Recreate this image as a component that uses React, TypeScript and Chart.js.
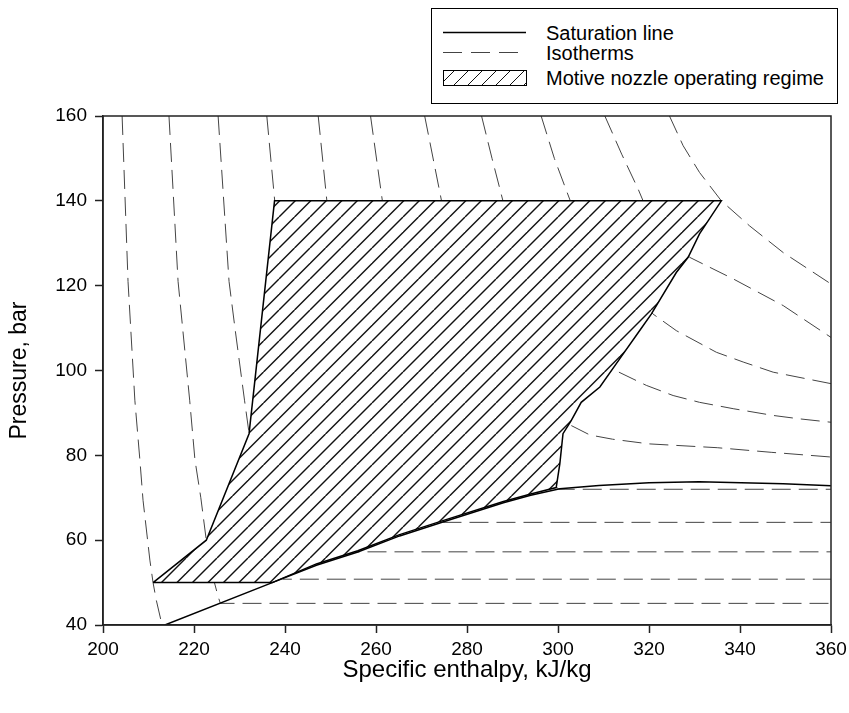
import React, { useEffect, useRef } from 'react';
import { Chart, registerables } from 'chart.js';

Chart.register(...registerables);

const FONT = '"Liberation Sans", Arial, Helvetica, sans-serif';

// Axis ticks
const xTickValues = [200, 220, 240, 260, 280, 300, 320, 340, 360];
const yTickValues = [40, 60, 80, 100, 120, 140, 160];

// Legend labels
const legendLabels = ['Saturation line', 'Isotherms', 'Motive nozzle operating regime'];

// Saturation line (enthalpy kJ/kg, pressure bar)
const satH = [213.6, 237.2, 246.9, 256.0, 265.2, 274.7, 288.0, 294.0, 300.4, 309.0, 320.0, 331.0, 349.5, 360.0];
const satP = [40.0, 50.0, 54.1, 57.2, 61.0, 64.3, 68.8, 70.6, 72.1, 72.9, 73.55, 73.75, 73.3, 72.8];

// Isotherms
const iso5H = [204.2, 205.5, 207.0, 208.1, 208.8, 210.3, 211.0, 211.7, 212.8, 213.4];
const iso5P = [160, 121, 93, 79, 69.4, 55.3, 50, 45.9, 40.8, 39];

const iso10H = [214.5, 216.5, 219.05, 220.2, 221.5, 222.7, 224.0, 225.3, 225.8, 360];
const iso10P = [160, 121, 93, 79, 70, 60, 52, 46.7, 45.1, 45.1];

const iso15H = [225.3, 227.7, 229.0, 231.1, 232.0, 234.0, 236.5, 238.3, 239.5, 360];
const iso15P = [160, 121, 110, 93, 86, 75, 62, 54, 50.8, 50.8];

const iso20H = [236.0, 237.6, 239.5, 242.0, 245.5, 249.5, 253.0, 256.0, 360];
const iso20P = [160, 141.6, 120, 100, 85, 72, 62, 57.25, 57.25];

const iso25H = [247.3, 249.2, 252.0, 256.0, 261.0, 266.0, 271.0, 274.8, 360];
const iso25P = [160, 140, 120, 100, 88, 78, 69, 64.2, 64.2];

const iso30H = [258.8, 261.4, 265.0, 271.0, 279.0, 289.0, 296.0, 300.2, 360];
const iso30P = [160, 140, 120, 105, 93, 83, 76, 72.0, 72.0];

const iso35H = [270.7, 274.4, 279.0, 285.0, 292.0, 302.4, 307.0, 312.0, 320.0, 335.0, 347.0, 360.0];
const iso35P = [160, 140, 125, 110, 98, 87.3, 84.8, 83.8, 82.7, 81.8, 80.7, 79.6];

const iso40H = [283.2, 285.5, 287.9, 294.0, 301.0, 308.0, 313.4, 319.4, 325.3, 331.1, 338.5, 347.3, 353.1, 360.0];
const iso40P = [160, 150, 140, 125, 113, 105, 99.6, 96.5, 94.1, 92.5, 91.0, 89.4, 88.6, 87.8];

const iso45H = [296.3, 299.2, 302.7, 308.0, 314.0, 320.9, 326.0, 334.8, 340.7, 347.3, 360.0];
const iso45P = [160, 150, 140, 130, 121, 113.3, 109.4, 104.3, 102.0, 99.6, 96.9];

const iso50H = [310.3, 314.0, 317.6, 318.7, 322.0, 325.5, 328.9, 338.5, 349.5, 360.0];
const iso50P = [160, 151, 142.8, 140, 135, 130.5, 126.7, 121.6, 115.3, 107.8];

const iso55H = [324.5, 327.5, 331.1, 335.9, 342.1, 349.5, 360.0];
const iso55P = [160, 153, 146.7, 140, 134.1, 127.8, 120.4];

// Motive nozzle operating regime (closed polygon)
const regimeH = [211.0, 222.7, 232.1, 237.7, 335.9, 331.1, 328.6, 326.0, 320.5, 318.0, 313.4, 309.2, 305.1, 302.9, 301.1, 300.4, 299.6, 294.0, 288.0, 274.7, 265.2, 256.0, 246.9, 237.2, 211.0];
const regimeP = [50, 60, 85.1, 140, 140, 132.2, 126.7, 123.1, 113.3, 109.5, 102.5, 96.1, 92.5, 88.2, 85.1, 78.0, 72.4, 70.9, 69.1, 64.6, 61.3, 57.5, 54.4, 50, 50];

const isoH = [iso5H, iso10H, iso15H, iso20H, iso25H, iso30H, iso35H, iso40H, iso45H, iso50H, iso55H];
const isoP = [iso5P, iso10P, iso15P, iso20P, iso25P, iso30P, iso35P, iso40P, iso45P, iso50P, iso55P];

function zip(h: number[], p: number[]) {
  return h.map((x, i) => ({ x, y: p[i] }));
}

function makeHatch(): CanvasPattern | string {
  const c = document.createElement('canvas');
  const s = 31;
  c.width = s;
  c.height = s;
  const g = c.getContext('2d');
  if (!g) return '#fff';
  g.fillStyle = '#fff';
  g.fillRect(0, 0, s, s);
  g.strokeStyle = '#111';
  g.lineWidth = 1.4;
  for (const k of [0, 15.5, 31, 46.5, 62]) {
    g.beginPath();
    g.moveTo(k, 0);
    g.lineTo(k - s, s);
    g.stroke();
  }
  return g.createPattern(c, 'repeat') || '#fff';
}

const framePlugin = {
  id: 'frame',
  afterDatasetsDraw(chart: any) {
    const { ctx, chartArea: a } = chart;
    ctx.save();
    ctx.strokeStyle = '#222';
    ctx.lineWidth = 1.5;
    ctx.strokeRect(a.left, a.top, a.right - a.left, a.bottom - a.top);
    ctx.restore();
  },
};

export default function App() {
  const ref = useRef<HTMLCanvasElement | null>(null);

  useEffect(() => {
    if (!ref.current) return;
    const isoSets = isoH.map((h, i) => ({
      label: 'Isotherm ' + i,
      data: zip(h, isoP[i]),
      showLine: true,
      borderColor: '#444',
      borderWidth: 1,
      borderDash: [19, 8],
      pointRadius: 0,
      fill: false,
      order: 2,
    }));
    const chart = new Chart(ref.current, {
      type: 'scatter',
      data: {
        datasets: [
          {
            label: legendLabels[0],
            data: zip(satH, satP),
            showLine: true,
            borderColor: '#000',
            borderWidth: 1.5,
            pointRadius: 0,
            fill: false,
            order: 0,
          },
          {
            label: legendLabels[2],
            data: zip(regimeH, regimeP),
            showLine: true,
            borderColor: '#000',
            borderWidth: 1.5,
            backgroundColor: makeHatch() as any,
            pointRadius: 0,
            fill: 'shape',
            order: 1,
          },
          ...isoSets,
        ] as any,
      },
      options: {
        responsive: false,
        animation: false,
        devicePixelRatio: 1,
        layout: { padding: { left: 0, top: 116, right: 18, bottom: 0 } },
        plugins: {
          legend: { display: false },
          tooltip: { enabled: false },
        },
        scales: {
          x: {
            type: 'linear',
            min: 200,
            max: 360,
            afterBuildTicks: (s: any) => {
              s.ticks = xTickValues.map((v) => ({ value: v }));
            },
            afterFit: (s: any) => {
              s.height = 88;
              s.paddingLeft = 0;
              s.paddingRight = 0;
            },
            ticks: { font: { family: FONT, size: 19 }, color: '#000', padding: 5.5, maxRotation: 0 },
            grid: { drawOnChartArea: false, tickLength: 8, tickColor: '#222', tickWidth: 1.5 },
            border: { color: '#222', width: 1.5 },
            title: {
              display: true,
              text: 'Specific enthalpy, kJ/kg',
              font: { family: FONT, size: 24, lineHeight: 1 },
              color: '#000',
              padding: { top: 0, bottom: 31 },
            },
          },
          y: {
            type: 'linear',
            min: 40,
            max: 160,
            afterBuildTicks: (s: any) => {
              s.ticks = yTickValues.map((v) => ({ value: v }));
            },
            afterFit: (s: any) => {
              s.width = 103;
              s.paddingTop = 0;
              s.paddingBottom = 0;
            },
            ticks: { font: { family: FONT, size: 19 }, color: '#000', padding: 8 },
            grid: { drawOnChartArea: false, tickLength: 8, tickColor: '#222', tickWidth: 1.5 },
            border: { color: '#222', width: 1.5 },
            title: {
              display: true,
              text: 'Pressure, bar',
              font: { family: FONT, size: 23, lineHeight: 1 },
              color: '#000',
              padding: { top: 8.5, bottom: 0 },
            },
          },
        },
      } as any,
      plugins: [framePlugin],
    });
    return () => chart.destroy();
  }, []);

  const rowText = (top: number): React.CSSProperties => ({
    position: 'absolute',
    left: 114,
    top,
    lineHeight: '22px',
    whiteSpace: 'nowrap',
  });

  return (
    <div style={{ position: 'absolute', left: 0, top: 0, width: 849, height: 713, overflow: 'hidden' }}>
      <canvas ref={ref} width={849} height={713} style={{ display: 'block' }} />
      <div
        style={{
          position: 'absolute',
          left: 431,
          top: 8,
          width: 405,
          height: 94,
          border: '1px solid #000',
          background: '#fff',
          fontFamily: FONT,
          fontSize: 20,
          color: '#000',
        }}
      >
        <svg width={96} height={93} style={{ position: 'absolute', left: 0, top: 0 }}>
          <defs>
            <pattern id="legHatch" width="14" height="14" patternUnits="userSpaceOnUse">
              <path d="M0,14 L14,0 M-7,7 L7,-7 M7,21 L21,7" stroke="#111" strokeWidth="1" />
            </pattern>
          </defs>
          <line x1={11} y1={23.5} x2={94} y2={23.5} stroke="#000" strokeWidth={1.5} />
          <line x1={11} y1={43.5} x2={86} y2={43.5} stroke="#444" strokeWidth={1} strokeDasharray="19 9" />
          <rect x={11.5} y={61.5} width={83} height={15} fill="url(#legHatch)" stroke="#000" strokeWidth={1} />
        </svg>
        <div style={rowText(12.5)}>{legendLabels[0]}</div>
        <div style={rowText(33)}>{legendLabels[1]}</div>
        <div style={rowText(57.5)}>{legendLabels[2]}</div>
      </div>
    </div>
  );
}
